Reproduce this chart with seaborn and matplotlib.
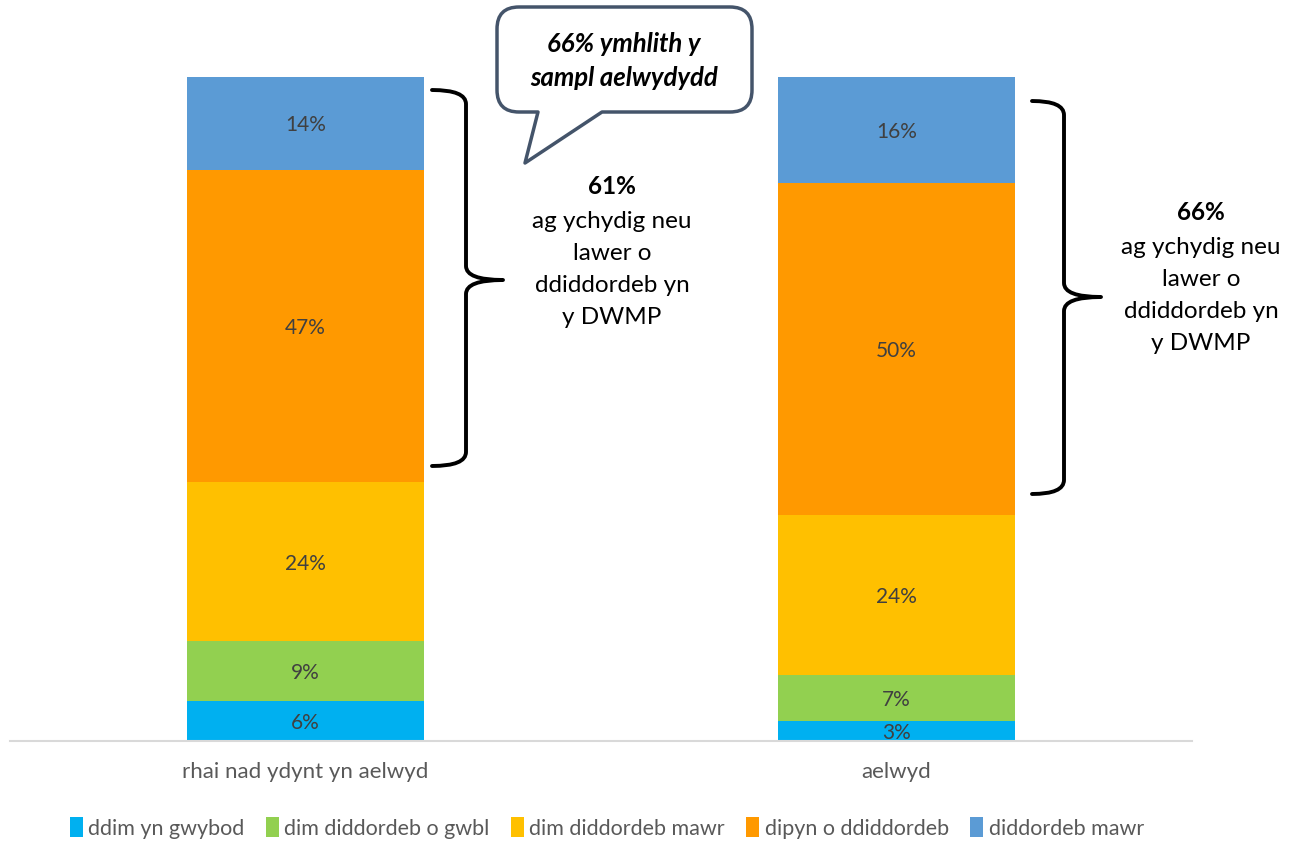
import matplotlib
matplotlib.use("Agg")
import matplotlib.pyplot as plt
from matplotlib.path import Path
from matplotlib.patches import PathPatch
import seaborn as sns
import pandas as pd
import numpy as np

categories = ["rhai nad ydynt yn aelwyd", "aelwyd"]
series_names = ["ddim yn gwybod", "dim diddordeb o gwbl", "dim diddordeb mawr",
                "dipyn o ddiddordeb", "diddordeb mawr"]
ddim_yn_gwybod = [6, 3]
dim_diddordeb_o_gwbl = [9, 7]
dim_diddordeb_mawr = [24, 24]
dipyn_o_ddiddordeb = [47, 50]
diddordeb_mawr = [14, 16]
colors = ["#00B0F0", "#92D050", "#FFC000", "#FF9900", "#5B9BD5"]

series_values = [ddim_yn_gwybod, dim_diddordeb_o_gwbl, dim_diddordeb_mawr,
                 dipyn_o_ddiddordeb, diddordeb_mawr]

sns.set_theme(style="white")
plt.rcParams["font.family"] = ["Lato", "DejaVu Sans"]

W, H = 1302, 843
fig = plt.figure(figsize=(W / 100, H / 100), dpi=100)
ax = fig.add_axes([10 / W, (H - 741) / H, 1182 / W, 664 / H])

bottom = np.zeros(len(categories))
for name, vals, col in zip(series_names, series_values, colors):
    df = pd.DataFrame({"cat": categories, "val": vals})
    sns.barplot(data=df, x="cat", y="val", color=col, width=0.4, saturation=1,
                bottom=bottom, ax=ax, label=name, linewidth=0, errorbar=None)
    for i, v in enumerate(vals):
        ax.text(i, bottom[i] + v / 2, f"{v}%", ha="center", va="center_baseline",
                fontsize=15, color="#404040")
    bottom = bottom + np.array(vals)

ax.set_ylim(0, 100)
ax.set_xlim(-0.5, 1.5)
ax.set_xlabel("")
ax.set_ylabel("")
ax.set_yticks([])
ax.tick_params(axis="x", length=0, labelsize=16, labelcolor="#595959", pad=15)
for s in ["top", "right", "left"]:
    ax.spines[s].set_visible(False)
ax.spines["bottom"].set_color("#D9D9D9")
ax.spines["bottom"].set_linewidth(1.5)

handles, labels = ax.get_legend_handles_labels()
if ax.legend_:
    ax.legend_.remove()
fig.legend(handles, labels, loc="center", bbox_to_anchor=(0.466, 1 - 828 / H),
           ncol=5, frameon=False, fontsize=15.5, handlelength=0.6, handleheight=1.0,
           handletextpad=0.25, columnspacing=1.0, labelcolor="#595959")

# overlay in pixel coordinates for annotations
ov = fig.add_axes([0, 0, 1, 1], facecolor="none")
ov.set_xlim(0, W)
ov.set_ylim(H, 0)
ov.axis("off")


def brace(x0, xm, xt, y0, ymid, y1, r=14):
    verts = [(x0, y0), (xm, y0), (xm, y0 + r),
             (xm, ymid - r), (xm, ymid), (xt, ymid),
             (xm, ymid), (xm, ymid + r),
             (xm, y1 - r), (xm, y1), (x0, y1)]
    codes = [Path.MOVETO, Path.CURVE3, Path.CURVE3,
             Path.LINETO, Path.CURVE3, Path.CURVE3,
             Path.CURVE3, Path.CURVE3,
             Path.LINETO, Path.CURVE3, Path.CURVE3]
    ov.add_patch(PathPatch(Path(verts, codes), fill=False, lw=2.8,
                           edgecolor="black", capstyle="round", joinstyle="round"))


brace(432, 466, 503, 90, 280, 466)
brace(1032, 1064, 1101, 101, 297, 494)

# speech bubble
L, R, T, B, r = 497, 752, 7, 112, 22
verts = [(L + r, T), (R - r, T), (R, T), (R, T + r), (R, B - r), (R, B), (R - r, B),
         (602, B), (525, 163), (538, B), (L + r, B), (L, B), (L, B - r),
         (L, T + r), (L, T), (L + r, T), (L + r, T)]
codes = [Path.MOVETO, Path.LINETO, Path.CURVE3, Path.CURVE3, Path.LINETO, Path.CURVE3,
         Path.CURVE3, Path.LINETO, Path.LINETO, Path.LINETO, Path.LINETO, Path.CURVE3,
         Path.CURVE3, Path.LINETO, Path.CURVE3, Path.CURVE3, Path.CLOSEPOLY]
ov.add_patch(PathPatch(Path(verts, codes), facecolor="white", edgecolor="#44546A",
                       lw=2.5, joinstyle="round"))
ov.text(624, 44, "66% ymhlith y", ha="center", va="center", fontsize=18.5,
        fontweight="bold", fontstyle="italic", color="black")
ov.text(624, 78, "sampl aelwydydd", ha="center", va="center", fontsize=18.5,
        fontweight="bold", fontstyle="italic", color="black")

# side texts
def side_text(xc, ytop, pct):
    ov.text(xc, ytop, pct, ha="center", va="center", fontsize=17.5,
            fontweight="bold", color="black")
    lines = ["ag ychydig neu", "lawer o", "ddiddordeb yn", "y DWMP"]
    for k, ln in enumerate(lines):
        ov.text(xc, ytop + 35 + 32 * k, ln, ha="center", va="center",
                fontsize=17.5, color="black")


side_text(612, 187, "61%")
side_text(1201, 212, "66%")

fig.savefig("out.png", dpi=100)
